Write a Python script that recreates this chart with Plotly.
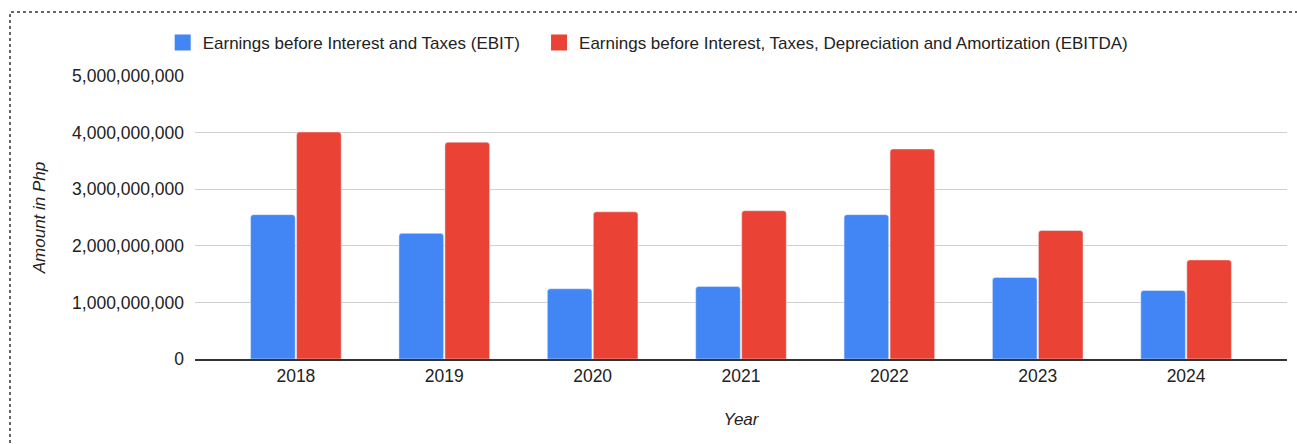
import plotly.graph_objects as go

# Annual earnings in Philippine pesos
years = ["2018", "2019", "2020", "2021", "2022", "2023", "2024"]
ebit = [2550000000, 2220000000, 1240000000, 1280000000, 2550000000, 1440000000, 1210000000]
ebitda = [4010000000, 3830000000, 2600000000, 2620000000, 3710000000, 2270000000, 1750000000]
series_names = [
    "Earnings before Interest and Taxes (EBIT)",
    "Earnings before Interest, Taxes, Depreciation and Amortization (EBITDA)",
]
y_ticks = [0, 1000000000, 2000000000, 3000000000, 4000000000, 5000000000]

BLUE = "#4285F4"
RED = "#EA4335"
FONT = "Arial, Liberation Sans, sans-serif"
TEXT = "#222222"
ENTRY_PAD = "\u00a0" * 3  # extra room between the two legend entries

fig = go.Figure()
for i, (name, values, color) in enumerate([(series_names[0], ebit, BLUE), (series_names[1], ebitda, RED)]):
    fig.add_trace(go.Bar(
        x=years, y=values, name=name, legendgroup=name, showlegend=False,
        marker=dict(color=color, cornerradius=3),
    ))
    # larger square swatch for the legend entry
    fig.add_trace(go.Scatter(
        x=[None], y=[None], mode="markers",
        name=name + (ENTRY_PAD if i == 0 else ""), legendgroup=name,
        marker=dict(symbol="square", size=18, color=color),
        hoverinfo="skip",
    ))

fig.update_layout(
    width=1297,
    height=444,
    margin=dict(l=195, r=10, t=76, b=85, autoexpand=False),
    paper_bgcolor="white",
    plot_bgcolor="white",
    font=dict(family=FONT, size=17, color=TEXT),
    barmode="group",
    bargap=0.38,
    bargroupgap=0.03,
    showlegend=True,
    legend=dict(
        orientation="h",
        x=0.415,
        xanchor="center",
        y=1.117,
        yanchor="middle",
        font=dict(size=17, color=TEXT),
        bgcolor="rgba(0,0,0,0)",
        itemsizing="trace",
    ),
    xaxis=dict(
        type="category",
        range=[-0.68, 6.68],
        showgrid=False,
        showline=True,
        linecolor="#333333",
        linewidth=1.5,
        ticks="",
        tickfont=dict(size=17.5, color=TEXT),
        title=dict(text="<i>Year</i>", font=dict(size=17, color=TEXT), standoff=28),
        automargin=False,
    ),
    yaxis=dict(
        range=[0, 5000000000],
        tickvals=y_ticks,
        tickformat=",",
        showgrid=True,
        gridcolor="#d0d0d0",
        gridwidth=1,
        zeroline=False,
        ticks="",
        ticklabelstandoff=10,
        tickfont=dict(size=17.5, color=TEXT),
        title=dict(text="<i>Amount in Php</i>", font=dict(size=17, color=TEXT), standoff=22),
        automargin=False,
    ),
    shapes=[
        dict(
            type="rect",
            xref="paper",
            yref="paper",
            x0=-0.1694,
            x1=1.02,
            y0=-0.4,
            y1=1.2265,
            line=dict(color="#333333", width=1.5, dash="dot"),
            fillcolor="rgba(0,0,0,0)",
            layer="below",
        )
    ],
)

fig.write_html("out.html")
